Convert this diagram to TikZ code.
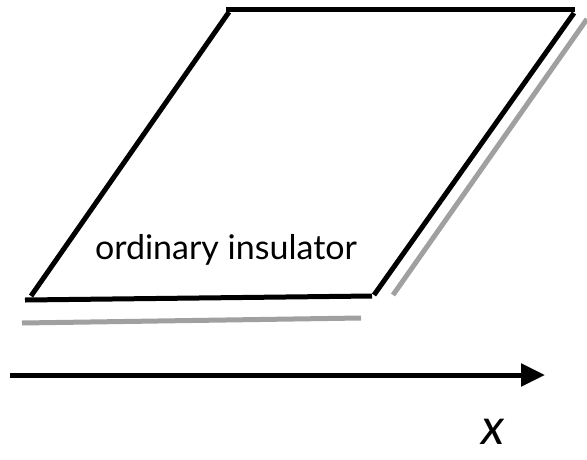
\documentclass[tikz,border=0pt]{standalone}
\usepackage{fontspec}
\setmainfont{Lato}
\usepackage{xcolor}
\usetikzlibrary{arrows.meta}
\definecolor{slabgray}{HTML}{A0A0A0}

\begin{document}
\begin{tikzpicture}[
  x=1pt, y=-1pt,
  slab/.style={line width=5pt, draw=black},
  shade/.style={line width=5pt, draw=slabgray},
  axis/.style={-{Triangle[length=24pt, width=22pt]}, line width=5pt, draw=black},
  lbl/.style={font=\fontsize{34}{38}\selectfont, inner sep=0pt}
]
\useasboundingbox (0,0) rectangle (587,459);
% corners of the slab
\coordinate (tl) at (226,9);
\coordinate (tr) at (575,9);
\coordinate (bl) at (25,300);
\coordinate (br) at (372,296);
\draw[slab] (tl) -- (tr);
\draw[slab] (31,296) -- (229,12);
\draw[slab] (bl) -- (br);
\draw[slab] (574,13) -- (374,295);
% grey edges
\coordinate (gbl) at (22,323);
\coordinate (gbr) at (361,318);
\coordinate (grb) at (393,295);
\coordinate (grt) at (587,19);
\draw[shade] (gbl) -- (gbr);
\draw[shade] (grb) -- (grt);
% axis
\coordinate (start) at (10,375);
\coordinate (stop) at (545,375);
\draw[axis] (start) -- (stop);
\node[lbl] (name) at (226,250) {ordinary insulator};
\node[lbl, font=\fontsize{50}{56}\selectfont\itshape] (xlab) at (493,432) {x};
\end{tikzpicture}
\end{document}
